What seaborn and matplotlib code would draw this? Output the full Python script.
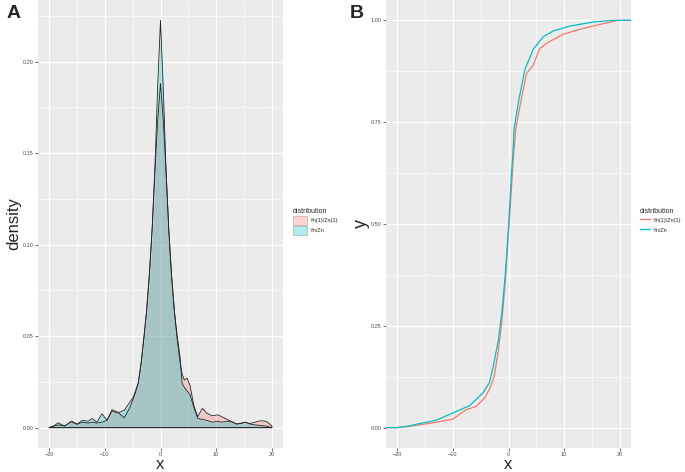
import numpy as np
import pandas as pd
import matplotlib
matplotlib.use("Agg")
import matplotlib.pyplot as plt
from matplotlib.patches import Patch
from matplotlib.lines import Line2D
from matplotlib.ticker import MultipleLocator, FormatStrFormatter
import seaborn as sns

# groups and colours (ggplot default hue)
groups = ["Yn(1)/Zn(1)", "Yn/Zn"]
colors = ["#F8766D", "#00BFC4"]

# panel A: density curves
dens_x = [-20, -19, -18.4, -17.2, -16, -15, -14, -13, -12.3, -11.4, -10.5, -9.6,
          -8.7, -7.7, -6.5, -5.5, -5, -4.5, -4, -3.5, -3, -2.5, -2, -1.5, -1,
          -0.5, 0, 0.5, 1, 1.5, 2, 2.5, 3, 3.5, 3.9, 4.3, 4.8, 5.3, 6, 6.7,
          7.5, 8.3, 9.3, 10.3, 11, 12, 13, 13.6, 14.5, 15.2, 16, 17, 18, 19, 20]
dens_yn1 = [0.0000, 0.0010, 0.0015, 0.0010, 0.0032, 0.0018, 0.0030, 0.0025,
            0.0030, 0.0025, 0.0030, 0.0040, 0.0098, 0.0085, 0.0054, 0.0110,
            0.0150, 0.0190, 0.0240, 0.0340, 0.0480, 0.0630, 0.0830, 0.1080,
            0.1400, 0.1680, 0.1880, 0.1680, 0.1400, 0.1080, 0.0830, 0.0640,
            0.0480, 0.0360, 0.0290, 0.0260, 0.0270, 0.0230, 0.0120, 0.0060,
            0.0105, 0.0080, 0.0065, 0.0070, 0.0060, 0.0045, 0.0030, 0.0020,
            0.0025, 0.0030, 0.0022, 0.0030, 0.0038, 0.0035, 0.0010]
dens_yn = [0.0000, 0.0012, 0.0027, 0.0008, 0.0036, 0.0020, 0.0040, 0.0035,
           0.0050, 0.0030, 0.0076, 0.0040, 0.0090, 0.0080, 0.0095, 0.0140,
           0.0160, 0.0200, 0.0245, 0.0350, 0.0490, 0.0640, 0.0840, 0.1090,
           0.1420, 0.1870, 0.2225, 0.1850, 0.1400, 0.1070, 0.0820, 0.0630,
           0.0500, 0.0390, 0.0240, 0.0220, 0.0200, 0.0180, 0.0110, 0.0050,
           0.0045, 0.0040, 0.0030, 0.0035, 0.0030, 0.0035, 0.0030, 0.0020,
           0.0022, 0.0030, 0.0020, 0.0015, 0.0012, 0.0008, 0.0000]

ecdf_x_yn1 = [-22, -20, -19, -17.5, -16, -13, -10, -7.6, -5.8, -4.3, -3.45,
              -2.55, -1.8, -1.2, -0.6, 0, 0.4, 0.86, 1.29, 2.06, 3.25, 4.45,
              5.53, 6.55, 8.04, 9.83, 12.8, 16.4, 19.7, 22]
ecdf_y_yn1 = [0, 0, 0.001, 0.004, 0.007, 0.013, 0.021, 0.044, 0.052, 0.073,
              0.093, 0.126, 0.192, 0.260, 0.355, 0.480, 0.560, 0.658, 0.732,
              0.790, 0.870, 0.890, 0.929, 0.941, 0.953, 0.966, 0.978, 0.990,
              1.0, 1.0]
ecdf_x_yn = [-22, -20, -19, -17.5, -16, -13, -10, -7, -4.6, -3.45, -2.85, -1.8,
             -1.2, -0.6, 0, 0.4, 0.86, 0.99, 1.76, 2.96, 4.45, 6.25, 8.04,
             11.03, 15.2, 18.8, 22]
ecdf_y_yn = [0, 0, 0.002, 0.005, 0.010, 0.018, 0.036, 0.054, 0.085, 0.110,
             0.143, 0.216, 0.283, 0.372, 0.490, 0.593, 0.691, 0.732, 0.798,
             0.880, 0.929, 0.960, 0.974, 0.986, 0.996, 1.0, 1.0]

ecdf_df = pd.concat([
    pd.DataFrame({"x": ecdf_x_yn1, "y": ecdf_y_yn1, "distribution": groups[0]}),
    pd.DataFrame({"x": ecdf_x_yn, "y": ecdf_y_yn, "distribution": groups[1]}),
])

sns.set_theme(style="darkgrid", rc={
    "axes.facecolor": "#EBEBEB",
    "grid.color": "white",
    "axes.edgecolor": "#EBEBEB",
    "xtick.bottom": True,
    "ytick.left": True,
})
plt.rcParams["font.family"] = ["Liberation Sans", "DejaVu Sans"]

fig = plt.figure(figsize=(6.85, 4.72), dpi=100)
axA = fig.add_axes([38 / 685, 24 / 472, 245 / 685, 448 / 472])
axB = fig.add_axes([386 / 685, 24 / 472, 245 / 685, 448 / 472])

# density panel
for vals, col in zip([dens_yn1, dens_yn], colors):
    axA.fill_between(dens_x, vals, 0, facecolor=col, alpha=0.3, zorder=3)
    axA.fill_between(dens_x, vals, 0, facecolor="none", edgecolor="#222222",
                     linewidth=0.6, zorder=4)
axA.set_xlim(-22, 22)
axA.set_ylim(-0.0111, 0.2336)
axA.yaxis.set_major_locator(MultipleLocator(0.05))
axA.yaxis.set_minor_locator(MultipleLocator(0.025))
axA.yaxis.set_major_formatter(FormatStrFormatter("%.2f"))
axA.set_xlabel("x", fontsize=12, labelpad=0)
axA.set_ylabel("density", fontsize=12, labelpad=1)

# ecdf panel
sns.lineplot(data=ecdf_df, x="x", y="y", hue="distribution", palette=colors,
             estimator=None, sort=False, linewidth=0.9, ax=axB, legend=False,
             zorder=3)
axB.set_xlim(-22, 22)
axB.set_ylim(-0.05, 1.05)
axB.yaxis.set_major_locator(MultipleLocator(0.25))
axB.yaxis.set_minor_locator(MultipleLocator(0.125))
axB.yaxis.set_major_formatter(FormatStrFormatter("%.2f"))
axB.set_xlabel("x", fontsize=12, labelpad=0)
axB.set_ylabel("y", fontsize=13, labelpad=1)

for ax in (axA, axB):
    ax.xaxis.set_major_locator(MultipleLocator(10))
    ax.xaxis.set_minor_locator(MultipleLocator(5))
    ax.grid(which="major", color="white", linewidth=0.9)
    ax.grid(which="minor", color="white", linewidth=0.45)
    ax.tick_params(which="major", labelsize=4, labelcolor="#4D4D4D",
                   color="#333333", length=2, width=0.5, pad=1)
    ax.tick_params(which="minor", length=0)
    for s in ax.spines.values():
        s.set_visible(False)

# legends
hA = [Patch(facecolor=c, alpha=0.3, edgecolor="#222222", linewidth=0.5) for c in colors]
legA = fig.legend(hA, groups, title="distribution", loc="upper left",
                  bbox_to_anchor=(291 / 685, 1 - 206 / 472), frameon=False,
                  fontsize=4, title_fontsize=5, handlelength=2.4,
                  handleheight=2.2, handletextpad=0.6, labelspacing=0.1,
                  borderaxespad=0)
legA._legend_box.align = "left"
hB = [Line2D([], [], color=c, linewidth=0.9) for c in colors]
legB = fig.legend(hB, groups, title="distribution", loc="upper left",
                  bbox_to_anchor=(638 / 685, 1 - 206 / 472), frameon=False,
                  fontsize=4, title_fontsize=5, handlelength=1.8,
                  handleheight=2.2, handletextpad=0.4, labelspacing=0.1,
                  borderaxespad=0)
legB._legend_box.align = "left"

fig.text(7 / 685, 1 - 5 / 472, "A", fontsize=14, fontweight="bold", va="top")
fig.text(350 / 685, 1 - 5 / 472, "B", fontsize=14, fontweight="bold", va="top")

fig.savefig("out.png", dpi=100, facecolor="white")
